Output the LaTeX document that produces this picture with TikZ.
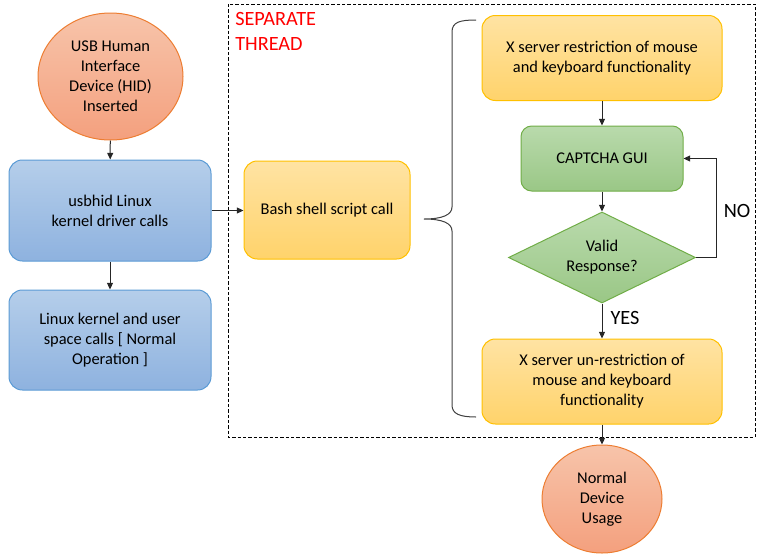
\documentclass[tikz,border=0pt]{standalone}
\usepackage{fontspec}
\setmainfont{Carlito}
\usetikzlibrary{shapes.geometric,arrows.meta}
\definecolor{ovT}{HTML}{F7C4AA}
\definecolor{ovB}{HTML}{F4A07E}
\definecolor{ovD}{HTML}{ED7D31}
\definecolor{blT}{HTML}{B5CEEA}
\definecolor{blB}{HTML}{8EB2DF}
\definecolor{blD}{HTML}{5B9BD5}
\definecolor{yeT}{HTML}{FFE3A3}
\definecolor{yeB}{HTML}{FFD36B}
\definecolor{yeD}{HTML}{FFC000}
\definecolor{grT}{HTML}{B9DAAC}
\definecolor{grB}{HTML}{9AC786}
\definecolor{grD}{HTML}{70AD47}
\definecolor{lineC}{HTML}{262626}
\definecolor{braceC}{HTML}{404040}
\newcommand{\mainfs}{\fontsize{12.3pt}{15pt}\selectfont}
\newcommand{\bigfs}{\fontsize{15.2pt}{18.75pt}\selectfont}
\tikzset{
  box/.style={draw, rounded corners=10pt, align=center, inner sep=0pt, font=\mainfs, line width=0.75pt},
  bluebox/.style={box, draw=blD, top color=blT, bottom color=blB},
  yelbox/.style={box, draw=yeD, top color=yeT, bottom color=yeB},
  grnbox/.style={box, draw=grD, top color=grT, bottom color=grB},
  oval/.style={ellipse, draw=ovD, top color=ovT, bottom color=ovB, align=center, inner sep=0pt, font=\mainfs, line width=0.75pt},
  decision/.style={diamond, shape aspect=2.05, draw=grD, top color=grT, bottom color=grB, align=center, inner sep=0pt, font=\mainfs, line width=0.75pt},
  arr/.style={draw=lineC, line width=0.75pt, -{Triangle[length=5pt,width=4.5pt]}},
  lbl/.style={font=\bigfs, inner sep=0pt},
}
\begin{document}
\begin{tikzpicture}[x=0.75pt,y=-0.75pt]
\useasboundingbox (0,0) rectangle (765,554);
% dashed frame
\draw[line width=0.75pt, dash pattern=on 2.5pt off 1.5pt] (228,4) rectangle (755,437);
\node[lbl, text=red, align=left, anchor=north west] (sep) at (235,12) {SEPARATE\\THREAD};
% left column
\node[oval, minimum width=108.75pt, minimum height=95.25pt] (hid) at (110.5,76.5) {USB Human\\Interface\\Device (HID)\\Inserted};
\node[bluebox, minimum width=151.5pt, minimum height=75.75pt] (usb) at (110,210.5) {usbhid Linux\\kernel driver calls};
\node[bluebox, minimum width=151.5pt, minimum height=75pt] (lin) at (110,340) {Linux kernel and user\\space calls [ Normal\\Operation ]};
\node[yelbox, minimum width=124.5pt, minimum height=73.5pt] (bash) at (327,210) {Bash shell script call};
% right column
\node[yelbox, minimum width=180pt, minimum height=63.75pt] (xr) at (602,58) {X server restriction of mouse\\and keyboard functionality};
\node[grnbox, rounded corners=8pt, minimum width=121.5pt, minimum height=48.75pt] (cap) at (602,158.5) {CAPTCHA GUI};
\node[decision, minimum width=140.25pt, minimum height=68.25pt] (val) at (602,257.5) {Valid\\Response?};
\node[yelbox, minimum width=180pt, minimum height=63.75pt] (xu) at (602,381.5) {X server un-restriction of\\mouse and keyboard\\functionality};
\node[oval, minimum width=90pt, minimum height=81pt] (nd) at (602,499) {Normal\\Device\\Usage};
% connectors
\draw[arr] (hid) -- (usb);
\draw[arr] (usb) -- (lin);
\draw[arr] (usb.east) -- (usb.east -| bash.west);
\draw[arr] (xr) -- (cap);
\draw[arr] (cap) -- (val);
\draw[arr] (val.south) -- (xu.north);
\draw[arr] (xu) -- (nd);
\draw[arr] (val.east) -- ++(20,0) |- (cap.east);
\node[lbl] (no) at (737,211) {NO};
\node[lbl] (yes) at (625,318) {YES};
% brace
\draw[braceC, line width=0.75pt] (476,20) .. controls (460,20) and (452,22) .. (452,32) -- (452,207) .. controls (452,215) and (442,219) .. (424,219) .. controls (442,219) and (452,223) .. (452,231) -- (452,405) .. controls (452,414) and (460,417) .. (476,417);
\end{tikzpicture}
\end{document}
